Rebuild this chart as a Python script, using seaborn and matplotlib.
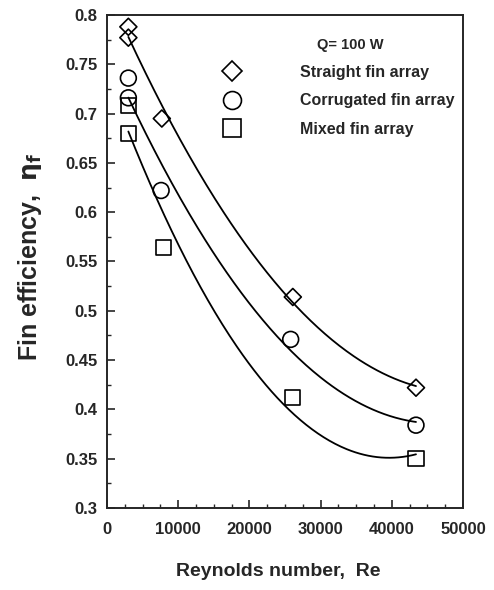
import numpy as np
import pandas as pd
import matplotlib
matplotlib.use("Agg")
import matplotlib.pyplot as plt
from matplotlib.lines import Line2D
from matplotlib.ticker import MultipleLocator
import seaborn as sns

# Dados
re_straight = [3000, 3000, 7700, 26100, 43400]
eta_straight = [0.788, 0.777, 0.695, 0.514, 0.422]

re_corrugated = [3000, 3000, 7600, 25800, 43400]
eta_corrugated = [0.736, 0.716, 0.622, 0.471, 0.384]

re_mixed = [3000, 3000, 7900, 26000, 43400]
eta_mixed = [0.708, 0.680, 0.564, 0.412, 0.350]

series = [
    ("Straight fin array", re_straight, eta_straight, "D", 75),
    ("Corrugated fin array", re_corrugated, eta_corrugated, "o", 130),
    ("Mixed fin array", re_mixed, eta_mixed, "s", 120),
]

sns.set_style("ticks")
plt.rcParams["font.family"] = ["Liberation Sans", "DejaVu Sans"]
plt.rcParams["font.weight"] = "bold"
plt.rcParams["mathtext.fontset"] = "dejavusans"

fig = plt.figure(figsize=(4.94, 5.90), dpi=100)
ax = fig.add_axes([0.2166, 0.139, 0.7206, 0.8356])

handles = []
for nome, x, y, marker, size in series:
    df = pd.DataFrame({"Re": x, "eta": y})
    # curva de ajuste (polinômio de 2º grau)
    coef = np.polyfit(x, y, 2)
    xs = np.linspace(min(x), max(x), 200)
    df_fit = pd.DataFrame({"Re": xs, "eta": np.polyval(coef, xs)})
    sns.lineplot(data=df_fit, x="Re", y="eta", color="black", linewidth=1.3, ax=ax)
    sns.scatterplot(data=df, x="Re", y="eta", marker=marker, s=size,
                    facecolors="none", edgecolor="black", linewidth=1.2, ax=ax, zorder=3)
    handles.append(Line2D([], [], linestyle="none", marker=marker, markersize=np.sqrt(size) + 1.5,
                          markerfacecolor="none", markeredgecolor="black",
                          markeredgewidth=1.2, label=nome))

ax.set_xlim(0, 50000)
ax.set_ylim(0.3, 0.8)
ax.xaxis.set_major_locator(MultipleLocator(10000))
ax.xaxis.set_minor_locator(MultipleLocator(2500))
ax.yaxis.set_minor_locator(MultipleLocator(0.025))
ax.set_yticks([0.3, 0.35, 0.4, 0.45, 0.5, 0.55, 0.6, 0.65, 0.7, 0.75, 0.8])
ax.set_yticklabels(["0.3", "0.35", "0.4", "0.45", "0.5", "0.55", "0.6", "0.65", "0.7", "0.75", "0.8"])
ax.tick_params(axis="both", which="major", direction="in", length=6, width=1.2, labelsize=12)
ax.tick_params(axis="y", which="major", pad=7)
ax.tick_params(axis="x", which="major", pad=10)
ax.tick_params(axis="both", which="minor", direction="in", length=3, width=1)
for lado in ax.spines.values():
    lado.set_linewidth(1.4)
    lado.set_visible(True)

ax.set_xlabel("Reynolds number,  Re", fontsize=14, fontweight="bold")
ax.xaxis.set_label_coords(0.48, -0.112)
ax.set_ylabel(r"Fin efficiency,  $\mathrm{\eta_f}$", fontsize=18, fontweight="bold")
ax.yaxis.set_label_coords(-0.177, 0.51)

# legenda (título escrito à parte, como no original)
ax.text(0.59, 0.94, "Q= 100 W", transform=ax.transAxes, fontsize=10.5,
        fontweight="bold", va="center", ha="left")
ax.legend(handles=handles, loc="upper left", bbox_to_anchor=(0.312, 0.912),
          frameon=False, fontsize=11.5, handletextpad=3.75, labelspacing=0.85,
          handlelength=1.0, borderaxespad=0)

fig.savefig("out.png", dpi=100)
